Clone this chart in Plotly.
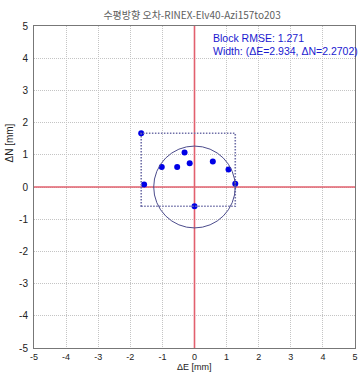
import numpy as np
import plotly.graph_objects as go

# Data
dE = [-1.66, -1.57, -1.02, -0.54, -0.31, -0.15, 0.00, 0.57, 1.06, 1.27]
dN = [1.67, 0.08, 0.62, 0.62, 1.07, 0.74, -0.60, 0.79, 0.54, 0.10]
rmse = 1.271
title_text = "수평방향 오차-RINEX-Elv40-Azi157to203"
info_lines = ["Block RMSE: 1.271", "Width: (ΔE=2.934, ΔN=2.2702)"]
ticks = [-5, -4, -3, -2, -1, 0, 1, 2, 3, 4, 5]

FONT = "Liberation Sans, Arial, sans-serif"
W, H = 359, 373
L, R, T, B = 34, 4, 26, 25

fig = go.Figure()

# Red cross at origin
fig.add_trace(go.Scatter(x=[-5, 5], y=[0, 0], mode="lines",
                         line=dict(color="#e2606e", width=1.6), hoverinfo="skip", showlegend=False))
fig.add_trace(go.Scatter(x=[0, 0], y=[-5, 5], mode="lines",
                         line=dict(color="#e2606e", width=1.6), hoverinfo="skip", showlegend=False))

# Bounding box (dotted)
fig.add_shape(type="rect", x0=min(dE), x1=max(dE), y0=min(dN), y1=max(dN),
              line=dict(color="#7070a8", width=1.6, dash="1.5px,1.5px"), layer="above")
# RMSE circle
fig.add_shape(type="circle", x0=-rmse, x1=rmse, y0=-rmse, y1=rmse,
              line=dict(color="#4c4c8c", width=1), layer="above")

# Points
fig.add_trace(go.Scatter(x=dE, y=dN, mode="markers",
                         marker=dict(color="#0000e6", size=6), showlegend=False))

# Info text
for i, t in enumerate(info_lines):
    fig.add_annotation(x=0.52, y=4.62 - 0.41 * i, xref="x", yref="y", text=t,
                       showarrow=False, xanchor="left", yanchor="middle",
                       font=dict(family=FONT, size=10.5, color="#1a1ad0"))

axis_common = dict(range=[-5, 5], tickvals=ticks, ticktext=[str(t) for t in ticks],
                   showgrid=True, gridcolor="#c4c4c4", griddash="1px,1px", gridwidth=1,
                   zeroline=False, showline=True, linecolor="#777777", linewidth=1,
                   mirror=True, ticks="", fixedrange=True)

fig.update_layout(
    width=W, height=H,
    margin=dict(l=L, r=R, t=T, b=B, autoexpand=False),
    paper_bgcolor="white", plot_bgcolor="white",
    xaxis=dict(**axis_common, ticklabelstandoff=0,
               tickfont=dict(family=FONT, size=9, color="#222222")),
    yaxis=dict(**axis_common, ticklabelstandoff=3,
               tickfont=dict(family=FONT, size=10, color="#222222")),
    title=dict(text=title_text, x=0.535, xanchor="center", y=1 - 15 / H, yanchor="middle",
               font=dict(family="Noto Sans CJK KR, " + FONT, size=10, color="#606060")),
    showlegend=False,
)

# Axis titles
fig.add_annotation(x=0, xref="x", y=-B / (H - T - B), yref="paper",
                   text="ΔE [mm]", showarrow=False, xanchor="center", yanchor="bottom",
                   borderpad=0, font=dict(family=FONT, size=9, color="#222222"), yshift=0)
fig.add_annotation(x=-24 / (W - L - R), xref="paper", y=1.35, yref="y",
                   text="ΔN [mm]", showarrow=False, xanchor="center", yanchor="middle",
                   textangle=-90, font=dict(family=FONT, size=10, color="#222222"))

fig.write_html("out.html")
